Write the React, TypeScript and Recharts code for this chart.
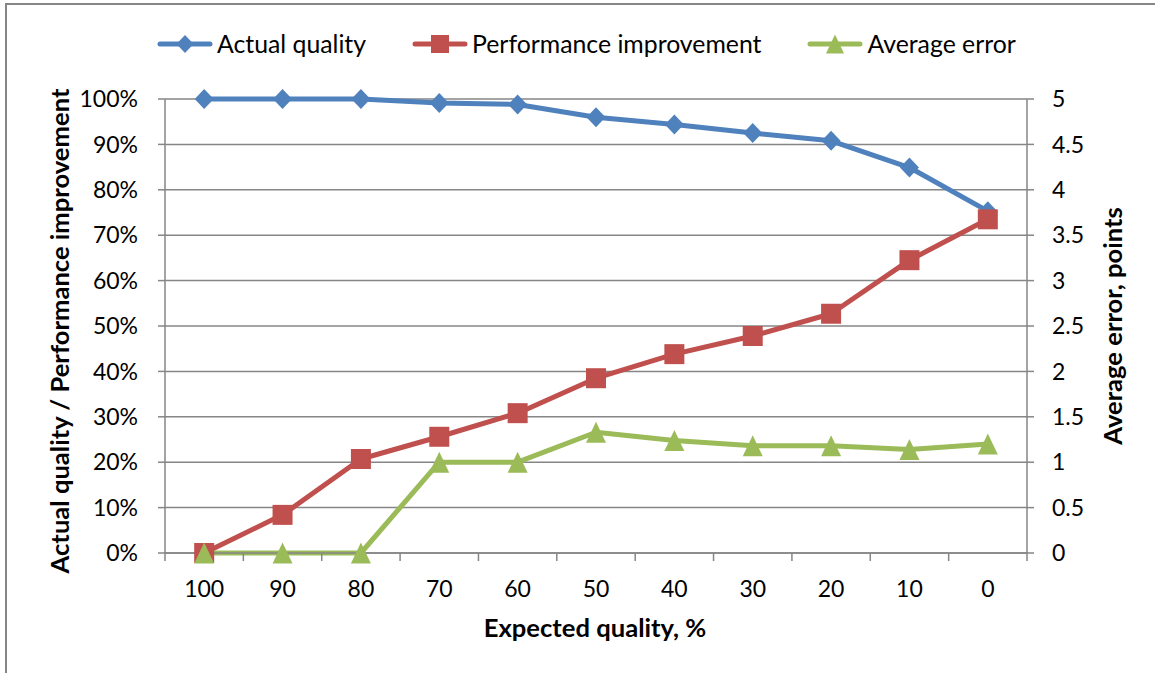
import React from 'react';
import { LineChart, Line, XAxis, YAxis, CartesianGrid, Legend, Label } from 'recharts';

const CATEGORIES = ['100', '90', '80', '70', '60', '50', '40', '30', '20', '10', '0'];
const ACTUAL_QUALITY = [100, 100, 100, 99.1, 98.8, 96.0, 94.4, 92.5, 90.8, 84.9, 75.3];
const PERFORMANCE_IMPROVEMENT = [0, 8.4, 20.7, 25.6, 30.8, 38.5, 43.8, 47.8, 52.7, 64.5, 73.5];
const AVERAGE_ERROR = [0, 0, 0, 1.0, 1.0, 1.33, 1.24, 1.18, 1.18, 1.14, 1.2];
const LEFT_TICKS = [0, 10, 20, 30, 40, 50, 60, 70, 80, 90, 100];
const RIGHT_TICKS = [0, 0.5, 1, 1.5, 2, 2.5, 3, 3.5, 4, 4.5, 5];

const SERIES = [
  { key: 'actual', name: 'Actual quality', color: '#4F81BD', shape: 'diamond', axis: 'left' },
  { key: 'perf', name: 'Performance improvement', color: '#C0504D', shape: 'square', axis: 'left' },
  { key: 'err', name: 'Average error', color: '#9BBB59', shape: 'triangle', axis: 'right' },
];

const data = CATEGORIES.map((c, i) => ({
  cat: c,
  actual: ACTUAL_QUALITY[i],
  perf: PERFORMANCE_IMPROVEMENT[i],
  err: AVERAGE_ERROR[i],
}));

const W = 1155;
const H = 673;
const LEFT_W = 165;
const RIGHT_W = 128;
const TOP = 99;
const X_H = 120;
const BAND = (W - LEFT_W - RIGHT_W) / CATEGORIES.length;
const FONT = 'Lato, "Noto Sans", sans-serif';
const AXIS = '#868686';
const FS_TICK = 23;
const FS_LEGEND = 24.8;
const FS_TITLE = 25.6;

function markerPath(shape: string, cx: number, cy: number, s: number) {
  if (shape === 'diamond') {
    return `M${cx},${cy - s} L${cx + s * 0.95},${cy} L${cx},${cy + s} L${cx - s * 0.95},${cy} Z`;
  }
  if (shape === 'square') {
    return `M${cx - s},${cy - s} H${cx + s} V${cy + s} H${cx - s} Z`;
  }
  return `M${cx},${cy - s * 1.05} L${cx + s},${cy + s * 1.05} L${cx - s},${cy + s * 1.05} Z`;
}

const makeDot = (shape: string, color: string, size: number) => (props: any) => {
  const { cx, cy, index } = props;
  if (cx == null || cy == null) return <g key={`e-${index}`} />;
  return <path key={`${shape}-${index}`} d={markerPath(shape, cx, cy, size)} fill={color} stroke="none" />;
};

const XTick = (props: any) => {
  const { x, y, payload, index } = props;
  const half = BAND / 2;
  return (
    <g>
      <line x1={x - half} x2={x - half} y1={y} y2={y + 8} stroke={AXIS} strokeWidth={1.5} />
      {index === CATEGORIES.length - 1 && (
        <line x1={x + half} x2={x + half} y1={y} y2={y + 8} stroke={AXIS} strokeWidth={1.5} />
      )}
      <text x={x} y={y + 43.5} textAnchor="middle" fill="#000" fontSize={FS_TICK} fontFamily={FONT}>
        {payload.value}
      </text>
    </g>
  );
};

const renderLegend = (props: any) => {
  const payload: any[] = props.payload || [];
  return (
    <div style={{ display: 'flex', alignItems: 'center', fontFamily: FONT, fontSize: FS_LEGEND, color: '#000', whiteSpace: 'nowrap' }}>
      {SERIES.map((s, i) => {
        const entry = payload.find((p: any) => p.value === s.name);
        const label = entry ? entry.value : s.name;
        return (
          <div key={s.key} style={{ display: 'flex', alignItems: 'center', marginRight: i < SERIES.length - 1 ? 46 : 0 }}>
            <svg width={56} height={24} style={{ display: 'block' }}>
              <line x1={3} x2={53} y1={12} y2={12} stroke={s.color} strokeWidth={5} strokeLinecap="round" />
              <path d={markerPath(s.shape, 28, 12, 9)} fill={s.color} />
            </svg>
            <span style={{ marginLeft: 4 }}>{label}</span>
          </div>
        );
      })}
    </div>
  );
};

const LeftTitle = () => {
  const cx = 59;
  const cy = 331;
  return (
    <text x={cx} y={cy} transform={`rotate(-90 ${cx} ${cy})`} textAnchor="middle" dominantBaseline="central"
      fontFamily={FONT} fontWeight="bold" fontSize={FS_TITLE} fill="#000">
      Actual quality / Performance improvement
    </text>
  );
};

const RightTitle = () => {
  const cx = 1112;
  const cy = 326;
  return (
    <text x={cx} y={cy} transform={`rotate(-90 ${cx} ${cy})`} textAnchor="middle" dominantBaseline="central"
      fontFamily={FONT} fontWeight="bold" fontSize={FS_TITLE} fill="#000">
      Average error, points
    </text>
  );
};

const BottomTitle = () => (
  <text x={595} y={637} textAnchor="middle" fontFamily={FONT} fontWeight="bold" fontSize={FS_TITLE} fill="#000">
    Expected quality, %
  </text>
);

export default function App() {
  return (
    <div style={{ position: 'absolute', left: 0, top: 0, width: W, height: H, overflow: 'hidden', background: '#fff' }}>
      <div style={{ position: 'absolute', left: 5, top: 3, width: W + 20, height: H + 20, border: `2px solid ${AXIS}`, boxSizing: 'border-box' }} />
      <div style={{ position: 'absolute', left: 0, top: 0 }}>
        <LineChart width={W} height={H} data={data} margin={{ top: TOP, right: 0, bottom: 0, left: 0 }}>
          <CartesianGrid yAxisId="left" vertical={false} stroke={AXIS} strokeWidth={1.5} />
          <XAxis dataKey="cat" type="category" scale="band" interval={0} height={X_H}
            tickLine={false} tickSize={0} tickMargin={0} axisLine={{ stroke: AXIS, strokeWidth: 1.5 }} tick={<XTick />}>
            <Label content={<BottomTitle />} />
          </XAxis>
          <YAxis yAxisId="left" orientation="left" width={LEFT_W} domain={[0, 100]} ticks={LEFT_TICKS}
            interval={0} tickFormatter={(v: number) => `${v}%`} tickSize={7} tickMargin={20}
            tickLine={{ stroke: AXIS, strokeWidth: 1.5 }} axisLine={{ stroke: AXIS, strokeWidth: 1.5 }}
            tick={{ fill: '#000', fontSize: FS_TICK, fontFamily: FONT }}>
            <Label content={<LeftTitle />} />
          </YAxis>
          <YAxis yAxisId="right" orientation="right" width={RIGHT_W} domain={[0, 5]} ticks={RIGHT_TICKS}
            interval={0} tickSize={7} tickMargin={18}
            tickLine={{ stroke: AXIS, strokeWidth: 1.5 }} axisLine={{ stroke: AXIS, strokeWidth: 1.5 }}
            tick={{ fill: '#000', fontSize: FS_TICK, fontFamily: FONT, textAnchor: 'start' }}>
            <Label content={<RightTitle />} />
          </YAxis>
          <Legend verticalAlign="middle" content={renderLegend} wrapperStyle={{ top: 29, left: 157, width: 'auto' }} />
          {SERIES.map((s) => (
            <Line key={s.key} yAxisId={s.axis} dataKey={s.key} name={s.name} type="linear" stroke={s.color}
              strokeWidth={5} strokeLinejoin="round" isAnimationActive={false}
              dot={makeDot(s.shape, s.color, 10)} activeDot={false} legendType="line" />
          ))}
        </LineChart>
      </div>
    </div>
  );
}
